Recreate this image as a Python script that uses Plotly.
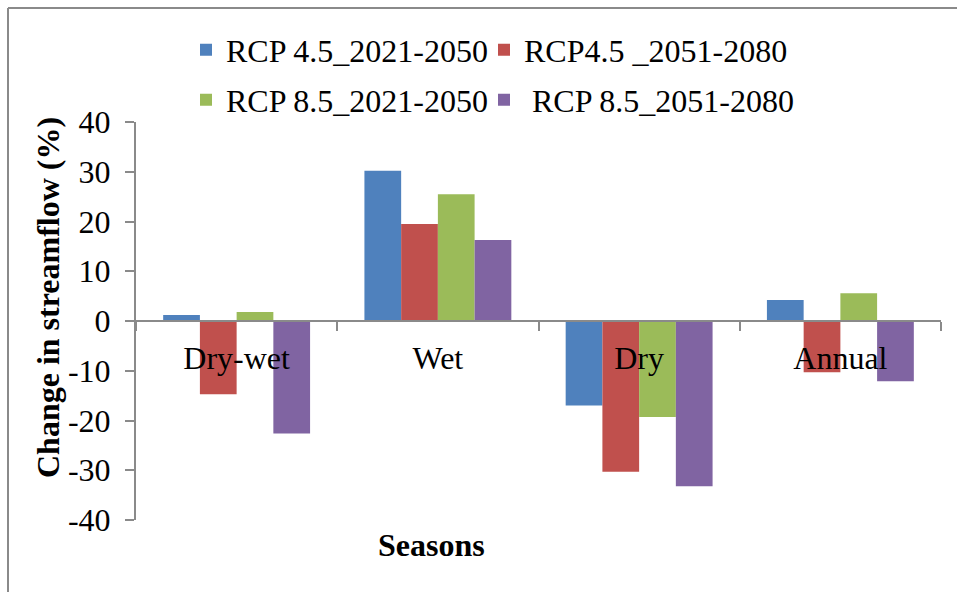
import plotly.graph_objects as go

# Seasonal change in streamflow under two RCP scenarios and two future periods
seasons = ["Dry-wet", "Wet", "Dry", "Annual"]
rcp45_2021_2050 = [1.2, 30.2, -17.0, 4.2]
rcp45_2051_2080 = [-14.7, 19.5, -30.3, -10.3]
rcp85_2021_2050 = [1.8, 25.5, -19.3, 5.6]
rcp85_2051_2080 = [-22.6, 16.3, -33.2, -12.1]

series_names = ["RCP 4.5_2021-2050", "RCP4.5 _2051-2080",
                "RCP 8.5_2021-2050", " RCP 8.5_2051-2080"]
series_colors = ["#4F81BD", "#C0504D", "#9BBB59", "#8064A2"]
series_values = [rcp45_2021_2050, rcp45_2051_2080, rcp85_2021_2050, rcp85_2051_2080]

y_tick_vals = [40, 30, 20, 10, 0, -10, -20, -30, -40]
y_tick_text = ["40", "30", "20", "10", "0", "-10", "-20", "-30", "-40"]

FONT = "Liberation Serif"
AXIS_GRAY = "#8A8A8A"

W, H = 957, 592
L, R, T, B = 136, 16, 122, 72
PW, PH = W - L - R, H - T - B


def px_x(px):
    return (px - L) / PW


def px_y(py):
    return (H - B - py) / PH


# one legend box per entry, laid out as a 2 x 2 grid above the plot
legend_ids = ["legend", "legend2", "legend3", "legend4"]
legend_pos = [(186, 50), (484, 50), (186, 100), (484, 100)]

fig = go.Figure()
for name, color, vals, lg in zip(series_names, series_colors, series_values, legend_ids):
    fig.add_trace(go.Bar(
        x=seasons, y=vals, name=name, legend=lg,
        marker=dict(color=color, line=dict(width=0)),
    ))

legend_common = dict(
    orientation="h", xanchor="left", yanchor="middle",
    font=dict(family=FONT, size=32, color="black"),
    bgcolor="rgba(0,0,0,0)",
    itemclick=False, itemdoubleclick=False,
)
legend_layout = {
    lg: dict(x=px_x(px), y=px_y(py), **legend_common)
    for lg, (px, py) in zip(legend_ids, legend_pos)
}

fig.update_layout(
    width=W, height=H,
    margin=dict(l=L, r=R, t=T, b=B, pad=0),
    paper_bgcolor="white", plot_bgcolor="white",
    font=dict(family=FONT, size=32, color="black"),
    barmode="group", bargap=0.27, bargroupgap=0,
    showlegend=True,
    **legend_layout,
    xaxis=dict(
        type="category", anchor="free", position=0.5,
        showline=True, linecolor=AXIS_GRAY, linewidth=2,
        ticks="outside", tickson="boundaries", ticklen=9,
        tickcolor=AXIS_GRAY, tickwidth=2,
        showgrid=False, zeroline=False,
        tickfont=dict(family=FONT, size=32, color="black"),
        ticklabelstandoff=9,
    ),
    yaxis=dict(
        range=[-40, 40], tickvals=y_tick_vals, ticktext=y_tick_text,
        showline=True, linecolor=AXIS_GRAY, linewidth=2,
        ticks="outside", ticklen=9, tickcolor=AXIS_GRAY, tickwidth=2,
        showgrid=False, zeroline=False,
        tickfont=dict(family=FONT, size=32, color="black"),
        ticklabelstandoff=8,
    ),
    annotations=[
        dict(text="<b>Change in streamflow (%)</b>", textangle=-90,
             xref="paper", yref="paper", x=px_x(48), y=px_y(298),
             xanchor="center", yanchor="middle", showarrow=False,
             font=dict(family=FONT, size=32, color="black")),
        dict(text="<b>Seasons</b>",
             xref="paper", yref="paper", x=px_x(431), y=px_y(545),
             xanchor="center", yanchor="middle", showarrow=False,
             font=dict(family=FONT, size=32, color="black")),
    ],
    shapes=[
        # chart-area frame (top and left edges)
        dict(type="line", xref="paper", yref="paper",
             x0=px_x(8), x1=px_x(960), y0=px_y(8), y1=px_y(8),
             line=dict(color=AXIS_GRAY, width=2)),
        dict(type="line", xref="paper", yref="paper",
             x0=px_x(8), x1=px_x(8), y0=px_y(8), y1=px_y(600),
             line=dict(color=AXIS_GRAY, width=2)),
    ],
)

fig.write_html("out.html")
